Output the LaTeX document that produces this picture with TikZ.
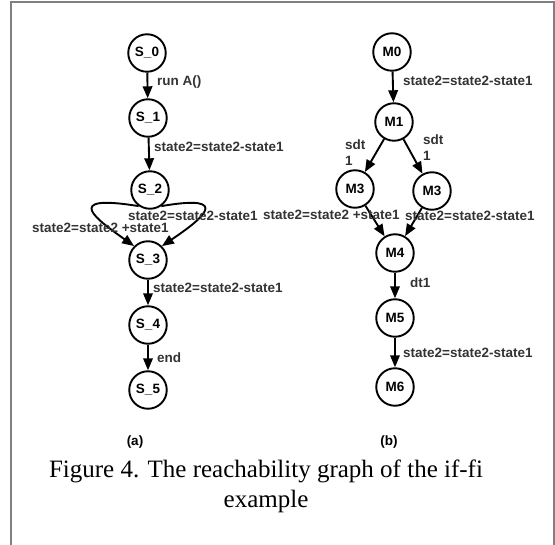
\documentclass[tikz,border=0pt]{standalone}
\usepackage{fontspec}
\setmainfont{Liberation Serif}
\setsansfont{Liberation Sans}
\usetikzlibrary{arrows.meta}
\begin{document}
\begin{tikzpicture}[x=1pt,y=-1pt,
  state/.style={circle,draw,line width=1.9pt,minimum size=37.5pt,inner sep=0pt,
    font=\sffamily\bfseries\fontsize{13.5}{15}\selectfont},
  trans/.style={line width=1.9pt,-{Triangle[length=12pt,width=9.5pt]}},
  lab/.style={anchor=west,inner sep=0pt,text=black!80,
    font=\sffamily\bfseries\fontsize{13.5}{16}\selectfont},
  frame/.style={draw=gray,line width=1.5pt}]
\useasboundingbox (0,0) rectangle (555,545);
% page frame
\coordinate (fbl) at (11,545);
\coordinate (ftl) at (11,2);
\coordinate (ftr) at (554,2);
\coordinate (fbr) at (554,545);
\draw[frame] (fbl) -- (ftl) -- (ftr) -- (fbr);

% (a) states
\node[state] (s0) at (147,53) {S\_0};
\node[state] (s1) at (148,118) {S\_1};
\node[state] (s2) at (150,190) {S\_2};
\node[state] (s3) at (148,260) {S\_3};
\node[state] (s4) at (148,325) {S\_4};
\node[state] (s5) at (148,390) {S\_5};

\draw[trans] (s0) -- (s1);
\draw[trans] (s1) -- (s2);
\draw[trans] (s2.235) .. controls +(-80,-13) and +(-35,-25) .. (s3.135);
\draw[trans] (s2.305) .. controls +(75,-13) and +(37,-25) .. (s3.45);
\draw[trans] (s3) -- (s4);
\draw[trans] (s4) -- (s5);

\node[lab] (la1) at (157,82) {run A()};
\node[lab] (la2) at (154,147) {state2=state2-state1};
\node[lab] (la3) at (128,216) {state2=state2-state1};
\node[lab] (la4) at (32,228) {state2=state2 +state1};
\node[lab] (la5) at (153,288) {state2=state2-state1};
\node[lab] (la6) at (157,358) {end};

% (b) states
\node[state] (m0) at (392,52) {M0};
\node[state] (m1) at (394,122) {M1};
\node[state] (m3a) at (355,189) {M3};
\node[state] (m3b) at (432,191) {M3};
\node[state] (m4) at (395,253) {M4};
\node[state] (m5) at (395,318) {M5};
\node[state] (m6) at (395,387) {M6};

\draw[trans] (m0) -- (m1);
\draw[trans] (m1) -- (m3a);
\draw[trans] (m1) -- (m3b);
\draw[trans] (m3a) -- (m4);
\draw[trans] (m3b) -- (m4);
\draw[trans] (m4) -- (m5);
\draw[trans] (m5) -- (m6);

\node[lab] (lb1) at (403,81) {state2=state2-state1};
\node[lab,align=left] (lb2) at (345,153) {sdt\\1};
\node[lab,align=left] (lb3) at (423,148) {sdt\\1};
\node[lab] (lb4) at (263,215) {state2=state2 +state1};
\node[lab] (lb5) at (405,216) {state2=state2-state1};
\node[lab] (lb6) at (410,283) {dt1};
\node[lab] (lb7) at (403,353) {state2=state2-state1};

% sub-figure tags
\node[lab,anchor=center,text=black] (ta) at (135,442) {(a)};
\node[lab,anchor=center,text=black] (tb) at (389,442) {(b)};

% caption
\node[align=center,inner sep=0pt,font=\fontsize{25}{30}\selectfont] (cap) at (266,486)
  {Figure 4. The reachability graph of the if-fi\\example};
\end{tikzpicture}
\end{document}
